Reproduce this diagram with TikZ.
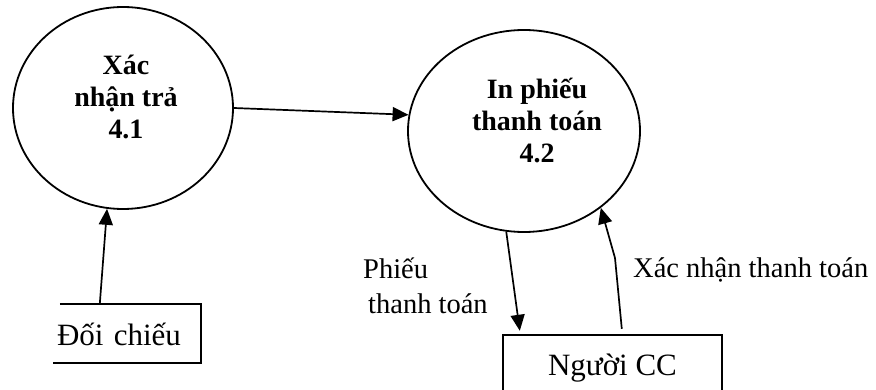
\documentclass[tikz,border=0pt]{standalone}
\usepackage{fontspec}
\setmainfont{Liberation Serif}
\usetikzlibrary{shapes.geometric,arrows.meta,calc}
\tikzset{
  proc/.style={ellipse,draw,line width=1.8pt,inner sep=0pt},
  proctext/.style={font=\fontsize{28}{32}\selectfont\bfseries,align=center,inner sep=0pt},
  lbl/.style={font=\fontsize{28.5}{34}\selectfont,inner sep=0pt},
  ent/.style={font=\fontsize{31}{36}\selectfont,inner sep=0pt},
  flow/.style={line width=1.7pt,-{Triangle[length=16pt,width=14pt]}}
}
\begin{document}
\begin{tikzpicture}[x=1pt,y=-1pt]
\useasboundingbox (0,0) rectangle (876,390);
% processes
\node[proc,minimum width=220pt,minimum height=202pt] (c1) at (123,108) {};
\node[proctext] (t1) at (126,97) {Xác\\nhận trả\\4.1};
\node[proc,minimum width=232pt,minimum height=202pt] (c2) at (524,131) {};
\node[proctext] (t2) at (537,121) {In phiếu\\thanh toán\\4.2};
% external entities
\node[ent,minimum width=148pt,minimum height=59pt,text width=140pt,inner xsep=4pt,align=left,text height=23pt,text depth=0pt] (dc) at (127,333.5) {Đối chiếu};
\draw[line width=1.8pt] ($(dc.north west)+(7,0)$) -- (dc.north east) -- (dc.south east) -- (dc.south west);
\node[ent,minimum width=219pt,minimum height=55pt,text height=25pt,text depth=0pt] (ncc) at (612.5,362.5) {Người CC};
\draw[line width=1.8pt] (ncc.south west) -- (ncc.north west) -- (ncc.north east) -- (ncc.south east);
% flows
\draw[flow] (c1.east) -- (c2.172);
\draw[flow] ($(dc.north west)+(47,0)$) -- (c1.261);
\draw[flow] (c2.260) -- ($(ncc.north west)+(17,-4)$);
\coordinate (bend) at (615,258);
\draw[flow] ($(ncc.north west)+(119,-6)$) -- (bend) -- (c2.315);
% labels
\node[lbl,anchor=base west] (l1) at (363,279) {Phiếu};
\node[lbl,anchor=base west] (l2) at (368,313) {thanh toán};
\node[lbl,anchor=base west] (l3) at (633,277) {Xác nhận thanh toán};
\end{tikzpicture}
\end{document}
